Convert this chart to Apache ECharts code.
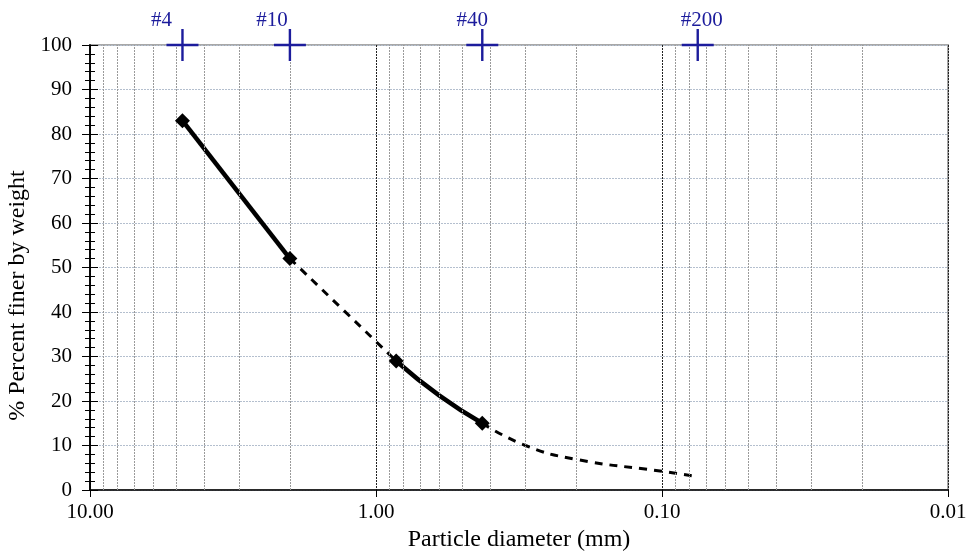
<!DOCTYPE html>
<html>
<head>
<meta charset="utf-8">
<script src="https://cdn.jsdelivr.net/npm/echarts@6/dist/echarts.min.js"></script>
<style>
  html,body{margin:0;padding:0;background:#fff}
  #chart{width:966px;height:552px}
</style>
</head>
<body>
<div id="chart"></div>
<script>
// measured points (sieve analysis)
const solidA = [[4.75, 83], [2.0, 52]]
const dashA = [[2.0, 52], [0.85, 29]]
const solidB = [[0.85, 29], [0.6, 21.2], [0.425, 15]]
const dashB = [[0.425, 15], [0.3, 10], [0.2, 6.9], [0.1, 4.2], [0.075, 3]]
const measured = [[4.75, 83], [2.0, 52], [0.85, 29], [0.425, 15]]

// sieve sizes shown on top axis
const sieveNames = ['#4', '#10', '#40', '#200']
const sieveSizes = [4.75, 2.0, 0.425, 0.075]
const sieveLabelDx = [-21, -18, -10, 4]   // label shift (style only)

// minor grid lines (2..9 per decade)
const minorX = [9, 8, 7, 6, 5, 4, 3, 2,
  0.9, 0.8, 0.7, 0.6, 0.5, 0.4, 0.3, 0.2,
  0.09, 0.08, 0.07, 0.06, 0.05, 0.04, 0.03, 0.02]

const font = 'Liberation Serif, Times New Roman, serif'
const blue = '#1c1c9c'

const chart = echarts.init(document.getElementById('chart'))

const yBase = {
  type: 'value', min: 0, max: 100, interval: 10,
  axisLine: {show: true, lineStyle: {color: '#000', width: 1.5}},
}

const option = {
  animation: false,
  grid: {left: 90, right: 18, top: 45, bottom: 62, containLabel: false, outerBoundsMode: 'none',
    show: true, borderColor: '#a8a8a8', borderWidth: 2},
  xAxis: [{
    type: 'log', logBase: 10, min: 0.01, max: 10, inverse: true,
    name: 'Particle diameter (mm)', nameLocation: 'middle', nameGap: 34,
    nameTextStyle: {fontFamily: font, fontSize: 24, color: '#000'},
    axisLine: {lineStyle: {color: '#000', width: 1.5}},
    axisTick: {show: true, length: 7, lineStyle: {color: '#000'}},
    axisLabel: {fontFamily: font, fontSize: 21, color: '#000', margin: 12,
      formatter: v => v.toFixed(2)},
    splitLine: {show: true, lineStyle: {color: '#222', type: [2, 1], width: 1}}
  }],
  yAxis: [
    Object.assign({}, yBase, {
      name: '% Percent finer by weight', nameLocation: 'middle', nameGap: 54,
      nameTextStyle: {fontFamily: font, fontSize: 24, color: '#000', padding: [0, 56, 0, 0]},
      axisTick: {show: true, length: 8, lineStyle: {color: '#000'}},
      minorTick: {show: true, splitNumber: 5, length: 5, lineStyle: {color: '#000'}},
      axisLabel: {fontFamily: font, fontSize: 21, color: '#000', margin: 18},
      splitLine: {show: true, lineStyle: {color: '#b4bfce', type: [2, 1]}}
    }),
    Object.assign({}, yBase, {
      position: 'left',
      axisTick: {show: true, inside: true, length: 8, lineStyle: {color: '#000'}},
      minorTick: {show: true, splitNumber: 5, length: 5, lineStyle: {color: '#000'}},
      axisLabel: {show: false},
      splitLine: {show: false}
    })
  ],
  series: [
    {
      type: 'line', data: [], silent: true,
      markLine: {
        silent: true, symbol: 'none', label: {show: false},
        lineStyle: {color: '#9a9a9a', type: [2, 1], width: 1},
        data: minorX.map(v => ({xAxis: v}))
      }
    },
    {
      type: 'line', data: dashA, showSymbol: false, smooth: true,
      lineStyle: {color: '#000', width: 3, type: [8, 7]}, z: 3
    },
    {
      type: 'line', data: dashB, showSymbol: false, smooth: true,
      lineStyle: {color: '#000', width: 3, type: [8, 7]}, z: 3
    },
    {
      type: 'line', data: solidA, showSymbol: false, smooth: true,
      lineStyle: {color: '#000', width: 4.5}, z: 4
    },
    {
      type: 'line', data: solidB, showSymbol: false, smooth: true,
      lineStyle: {color: '#000', width: 4.5}, z: 4
    },
    {
      type: 'scatter', data: measured, symbol: 'diamond', symbolSize: 15,
      itemStyle: {color: '#000', opacity: 1}, z: 5
    },
    {
      type: 'scatter', symbol: 'path://M0,14.8H32V17.2H0Z M14.8,0H17.2V32H14.8Z', symbolSize: 32,
      itemStyle: {color: blue, opacity: 1}, z: 6,
      data: sieveSizes.map((s, i) => ({
        value: [s, 100],
        label: {show: true, position: 'top', distance: 0, offset: [sieveLabelDx[i], 2],
          formatter: sieveNames[i], fontFamily: font, fontSize: 21, color: blue}
      }))
    }
  ]
}
chart.setOption(option)
</script>
</body>
</html>
